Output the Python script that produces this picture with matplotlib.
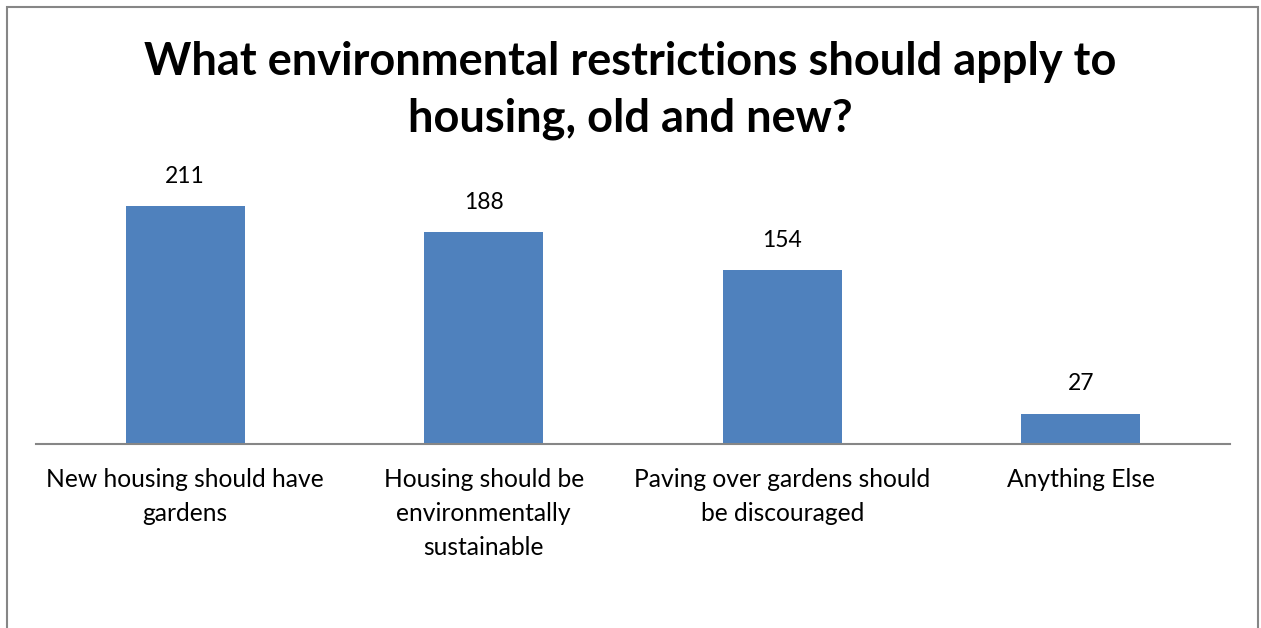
import matplotlib
matplotlib.use("Agg")
import matplotlib.pyplot as plt
from matplotlib.patches import Rectangle

categories = [
    "New housing should have\ngardens",
    "Housing should be\nenvironmentally\nsustainable",
    "Paving over gardens should\nbe discouraged",
    "Anything Else",
]
responses = [211, 188, 154, 27]
title = "What environmental restrictions should apply to\nhousing, old and new?"

BAR_COLOR = "#4F81BD"
AXIS_COLOR = "#868686"
FONT = ["Lato", "DejaVu Sans"]

W, H, DPI = 1261, 628, 100
fig = plt.figure(figsize=(W / DPI, H / DPI), dpi=DPI)
fig.patch.set_facecolor("white")

# outer chart border
fig.add_artist(Rectangle((7 / W, -0.05), (1258 - 7) / W, 1.05 - 7 / H,
                         transform=fig.transFigure, fill=False,
                         edgecolor=AXIS_COLOR, linewidth=1.5))

ymax = 240
ax = fig.add_axes([36 / W, (H - 444) / H, (1230 - 36) / W, (444 - 173.3) / H])
x = list(range(len(categories)))
ax.bar(x, responses, width=0.4, color=BAR_COLOR, zorder=2)
ax.set_xlim(-0.5, len(categories) - 0.5)
ax.set_ylim(0, ymax)

for xi, v in zip(x, responses):
    ax.annotate(str(v), (xi, v), xytext=(0, 14), textcoords="offset points",
                ha="center", va="bottom", fontsize=16.5, family=FONT,
                color="#000000")

for side in ("top", "left", "right"):
    ax.spines[side].set_visible(False)
ax.spines["bottom"].set_color(AXIS_COLOR)
ax.spines["bottom"].set_linewidth(1.5)
ax.set_yticks([])
ax.set_xticks(x)
ax.set_xticklabels(categories, fontsize=17.7, family=FONT, linespacing=1.6,
                   va="top", ha="center")
ax.tick_params(axis="x", length=0, pad=17)

fig.text(0.5, 0.935, title, ha="center", va="top", fontsize=32.5,
         fontweight="bold", family=FONT, linespacing=1.42)

fig.savefig("out.png", dpi=DPI)
